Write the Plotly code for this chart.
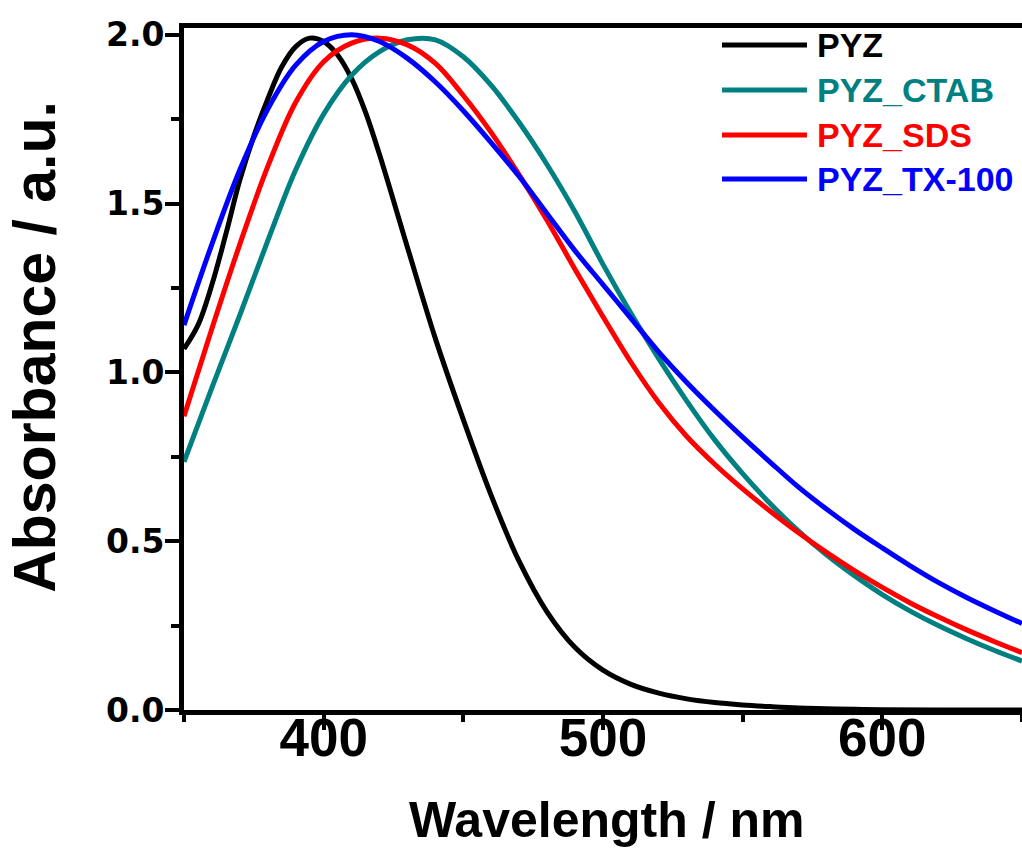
import plotly.graph_objects as go

# common wavelength grid (nm)
wavelength = [350, 360, 370, 380, 390, 400, 410, 420, 430, 440, 450, 460, 470, 480, 490, 500,
              510, 520, 530, 540, 550, 560, 570, 580, 590, 600, 610, 620, 630, 640, 650]
# finer grid for the narrow PYZ band
wavelength_pyz = [350, 355, 360, 365, 370, 375, 380, 385, 390, 395, 400, 405, 410, 415, 420, 430,
                  440, 450, 460, 470, 480, 490, 500, 510, 520, 530, 540, 550, 560, 570, 580, 590,
                  600, 620, 650]

pyz = [1.07, 1.14, 1.26, 1.41, 1.57, 1.70, 1.81, 1.905, 1.965, 1.99, 1.98, 1.94, 1.87, 1.77, 1.645, 1.37,
       1.10, 0.86, 0.635, 0.44, 0.29, 0.185, 0.118, 0.076, 0.05, 0.033, 0.022, 0.015, 0.01, 0.006, 0.004, 0.002,
       0.001, 0.0, 0.0]
pyz_ctab = [0.735, 0.955, 1.17, 1.39, 1.60, 1.765, 1.88, 1.95, 1.985, 1.985, 1.935, 1.85, 1.74, 1.615, 1.475, 1.32,
            1.175, 1.04, 0.915, 0.80, 0.70, 0.61, 0.53, 0.46, 0.398, 0.342, 0.293, 0.25, 0.212, 0.177, 0.145]
pyz_sds = [0.87, 1.13, 1.38, 1.61, 1.80, 1.92, 1.975, 1.99, 1.97, 1.915, 1.82, 1.71, 1.585, 1.45, 1.305, 1.165,
           1.03, 0.91, 0.81, 0.728, 0.655, 0.588, 0.525, 0.467, 0.413, 0.363, 0.317, 0.276, 0.238, 0.203, 0.17]
pyz_tx100 = [1.14, 1.38, 1.60, 1.78, 1.91, 1.98, 2.0, 1.98, 1.93, 1.86, 1.775, 1.68, 1.58, 1.47, 1.36, 1.26,
             1.16, 1.06, 0.97, 0.887, 0.808, 0.733, 0.66, 0.595, 0.535, 0.48, 0.427, 0.378, 0.334, 0.294, 0.256]

series_names = ["PYZ", "PYZ_CTAB", "PYZ_SDS", "PYZ_TX-100"]
series_x = [wavelength_pyz, wavelength, wavelength, wavelength]
series_values = [pyz, pyz_ctab, pyz_sds, pyz_tx100]
series_colors = ["#000000", "#008080", "#FF0000", "#0000FF"]

x_ticks = [400, 500, 600]
y_ticks = [0.0, 0.5, 1.0, 1.5, 2.0]
y_ticklabels = ["0.0", "0.5", "1.0", "1.5", "2.0"]

fig = go.Figure()
for name, xs, vals, col in zip(series_names, series_x, series_values, series_colors):
    fig.add_trace(go.Scatter(x=xs, y=vals, mode="lines", name=name,
                             line=dict(color=col, width=5, shape="spline", smoothing=1.0),
                             showlegend=False))

# legend drawn as long line samples with coloured bold text
leg_y = [0.975, 0.909, 0.843, 0.7786]
for name, col, yy in zip(series_names, series_colors, leg_y):
    fig.add_shape(type="line", xref="paper", yref="paper", x0=0.642, x1=0.7434, y0=yy, y1=yy,
                  line=dict(color=col, width=5), layer="above")
    fig.add_annotation(xref="paper", yref="paper", x=0.753, y=yy, text="<b>" + name + "</b>",
                       showarrow=False, xanchor="left", yanchor="middle",
                       font=dict(family="Liberation Sans, Arial", size=34, color=col))

fig.add_annotation(xref="paper", yref="paper", x=0.5036, y=-0.162, text="<b>Wavelength / nm</b>",
                   showarrow=False, xanchor="center", yanchor="middle",
                   font=dict(family="Liberation Sans, Arial", size=50, color="black"))
fig.add_annotation(xref="paper", yref="paper", x=-0.177, y=0.532, text="<b>Absorbance / a.u.</b>",
                   showarrow=False, xanchor="center", yanchor="middle", textangle=-90,
                   font=dict(family="Liberation Sans, Arial", size=59, color="black"))

fig.update_layout(
    width=1022, height=852,
    margin=dict(l=184, r=0, t=28, b=142),
    paper_bgcolor="white", plot_bgcolor="white",
)
fig.update_xaxes(
    range=[350, 650], tickvals=x_ticks, showgrid=False, zeroline=False,
    showline=True, linecolor="black", linewidth=5, mirror=True,
    ticks="outside", ticklen=15, tickwidth=4, tickcolor="black",
    minor=dict(dtick=50, tick0=350, ticks="outside", ticklen=7, tickwidth=4, tickcolor="black"),
    tickfont=dict(family="Liberation Sans, Arial", size=53, color="black", weight="bold"),
    ticklabelstandoff=-38,
)
fig.update_yaxes(
    range=[0, 2.02], tickvals=y_ticks, ticktext=y_ticklabels, showgrid=False, zeroline=False,
    showline=True, linecolor="black", linewidth=5, mirror=False,
    ticks="outside", ticklen=14, tickwidth=4, tickcolor="black",
    minor=dict(dtick=0.25, tick0=0, ticks="outside", ticklen=8, tickwidth=4, tickcolor="black"),
    tickfont=dict(family="DejaVu Sans", size=33, color="black", weight="bold"),
    ticklabelstandoff=-6,
)

fig.write_html("out.html", config={"displayModeBar": False},
               post_script="document.body.style.margin='0';document.body.style.overflow='hidden';")
